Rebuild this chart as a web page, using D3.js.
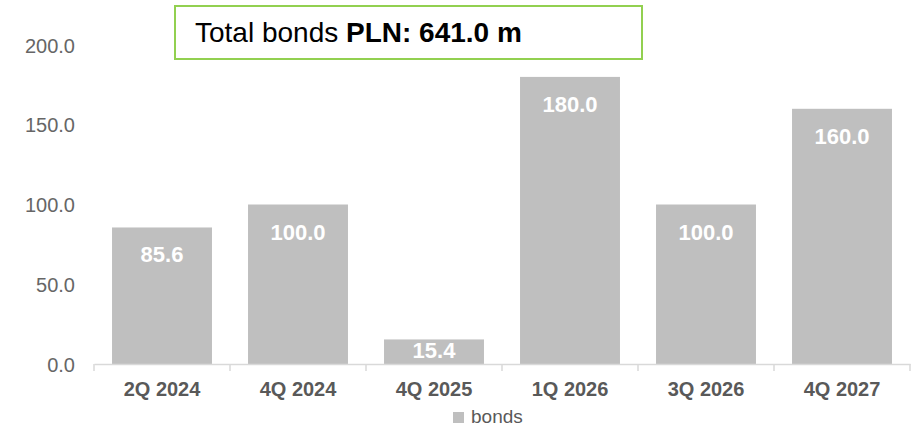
<!DOCTYPE html>
<html>
<head>
<meta charset="utf-8">
<script src="https://cdn.jsdelivr.net/npm/d3@7"></script>
<style>
  body { margin: 0; background: #fff; }
  text { font-family: "Liberation Sans", Arial, sans-serif; }
</style>
</head>
<body>
<div id="chart"></div>
<script>
var svgWidth = 914;
var svgHeight = 428;

// data
var categories = ["2Q 2024", "4Q 2024", "4Q 2025", "1Q 2026", "3Q 2026", "4Q 2027"];
var bonds = [85.6, 100.0, 15.4, 180.0, 100.0, 160.0];
var yTicks = [0, 50, 100, 150, 200];
var seriesName = "bonds";

var margin = { top: 45, right: 4, bottom: 64, left: 94 };
var width = svgWidth - margin.left - margin.right;
var height = svgHeight - margin.top - margin.bottom;

var svg = d3.select("#chart")
  .append("svg")
  .attr("width", svgWidth)
  .attr("height", svgHeight);

var chartGroup = svg.append("g")
  .attr("transform", `translate(${margin.left}, ${margin.top})`);

var xScale = d3.scaleBand()
  .domain(categories)
  .range([0, 816])
  .paddingInner(0.265)
  .paddingOuter(0.1325);

var yScale = d3.scaleLinear()
  .domain([0, 200])
  .range([height, 0]);

// y axis labels (no line)
var yAxis = d3.axisLeft(yScale)
  .tickValues(yTicks)
  .tickFormat(d3.format(".1f"))
  .tickSize(0)
  .tickPadding(19);

var yG = chartGroup.append("g").call(yAxis);
yG.select(".domain").remove();
yG.selectAll("text")
  .attr("fill", "#666666")
  .attr("dy", "0.35em")
  .style("font-size", "20px");

// bars
chartGroup.selectAll("rect.bar")
  .data(bonds)
  .enter()
  .append("rect")
  .attr("class", "bar")
  .attr("x", (d, i) => xScale(categories[i]))
  .attr("y", d => yScale(d))
  .attr("width", xScale.bandwidth())
  .attr("height", d => height - yScale(d))
  .attr("fill", "#bfbfbf");

// value labels
chartGroup.selectAll("text.val")
  .data(bonds)
  .enter()
  .append("text")
  .attr("class", "val")
  .attr("x", (d, i) => xScale(categories[i]) + xScale.bandwidth() / 2)
  .attr("y", d => Math.min(yScale(d) + 35, height - 6))
  .attr("text-anchor", "middle")
  .attr("fill", "#fff")
  .style("font-size", "22px")
  .style("font-weight", "bold")
  .text(d => d.toFixed(1));

// x axis
var xAxis = d3.axisBottom(xScale).tickSize(0).tickPadding(18);
var xG = chartGroup.append("g")
  .attr("transform", `translate(0, ${height})`)
  .call(xAxis);
xG.select(".domain").attr("stroke", "#d9d9d9").attr("stroke-width", 1.5);
xG.selectAll("text")
  .attr("fill", "#595959")
  .style("font-size", "20px")
  .style("font-weight", "bold");

// category boundary ticks
var step = xScale.step();
chartGroup.selectAll("line.sep")
  .data(d3.range(categories.length + 1))
  .enter()
  .append("line")
  .attr("class", "sep")
  .attr("x1", i => i * step)
  .attr("x2", i => i * step)
  .attr("y1", height)
  .attr("y2", height + 7)
  .attr("stroke", "#d9d9d9")
  .attr("stroke-width", 1.5);

// legend
var legend = svg.append("g").attr("transform", "translate(453, 412)");
legend.append("rect")
  .attr("width", 11)
  .attr("height", 11)
  .attr("fill", "#bfbfbf");
legend.append("text")
  .attr("x", 18)
  .attr("y", 11)
  .attr("fill", "#595959")
  .style("font-size", "19px")
  .text(seriesName);

// title box
svg.append("rect")
  .attr("x", 175)
  .attr("y", 6)
  .attr("width", 467)
  .attr("height", 53)
  .attr("fill", "#fff")
  .attr("stroke", "#92d050")
  .attr("stroke-width", 2);

var title = svg.append("text")
  .attr("x", 195)
  .attr("y", 42)
  .attr("fill", "#000")
  .style("font-size", "28px");
title.append("tspan").text("Total bonds ");
title.append("tspan").style("font-weight", "bold").text("PLN: 641.0 m");
</script>
</body>
</html>
